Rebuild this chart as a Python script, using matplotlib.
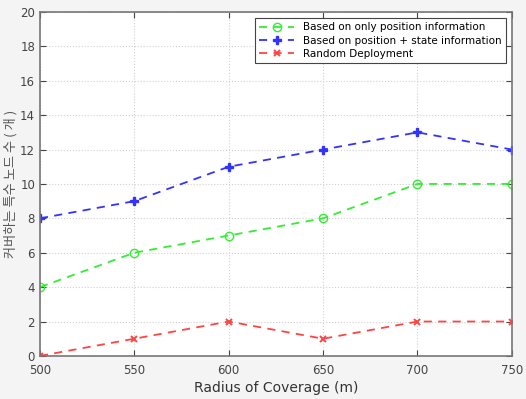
import matplotlib
matplotlib.use('Agg')
import matplotlib.pyplot as plt

plt.rcParams['font.family'] = ['DejaVu Sans', 'Noto Sans CJK KR']

radius = [500, 550, 600, 650, 700, 750]
only_position = [4, 6, 7, 8, 10, 10]
position_state = [8, 9, 11, 12, 13, 12]
random_deploy = [0, 1, 2, 1, 2, 2]

BG = '#f4f4f4'
DASH = (0, (4.5, 3.5))

fig = plt.figure(figsize=(5.26, 3.99), dpi=100)
fig.patch.set_facecolor(BG)
ax = fig.add_axes([0.076, 0.108, 0.897, 0.862])
ax.set_facecolor('white')

ax.plot(radius, only_position, linestyle=DASH, color='#33ee33', marker='o',
        mfc='none', mec='#33ee33', ms=6, lw=1.3,
        label='Based on only position information')
ax.plot(radius, position_state, linestyle=DASH, color='#3333ff', marker='P',
        ms=6, lw=1.3, label='Based on position + state information')
ax.plot(radius, random_deploy, linestyle=DASH, color='#ff4444', marker='x',
        ms=4, mew=1.4, lw=1.3, label='Random Deployment')

ax.set_xlim(500, 750)
ax.set_ylim(0, 20)
ax.set_xticks(radius)
ax.set_yticks(range(0, 21, 2))
ax.grid(True, linestyle=':', color='#d0d0d0', lw=0.8)
ax.tick_params(direction='in', top=True, right=True, labelsize=8.5,
               colors='#444444', length=4, width=0.8)
ax.tick_params(axis='x', pad=6)
for s in ax.spines.values():
    s.set_color('#777777')
    s.set_linewidth(1.2)

ax.set_xlabel('Radius of Coverage (m)', fontsize=10, color='#333333', labelpad=3)
ax.set_ylabel('커버하는 특수 노드 수 ( 개 )', fontsize=9.5, color='#555555',
              family=['Noto Sans CJK KR', 'DejaVu Sans'], labelpad=2)

leg = ax.legend(loc='upper right', fontsize=7.5, frameon=True, fancybox=False,
                edgecolor='#444444', borderaxespad=0.6, handlelength=3.4,
                labelspacing=0.3, borderpad=0.4, framealpha=1)
leg.get_frame().set_linewidth(0.8)

fig.savefig('out.png', dpi=100, facecolor=BG)
